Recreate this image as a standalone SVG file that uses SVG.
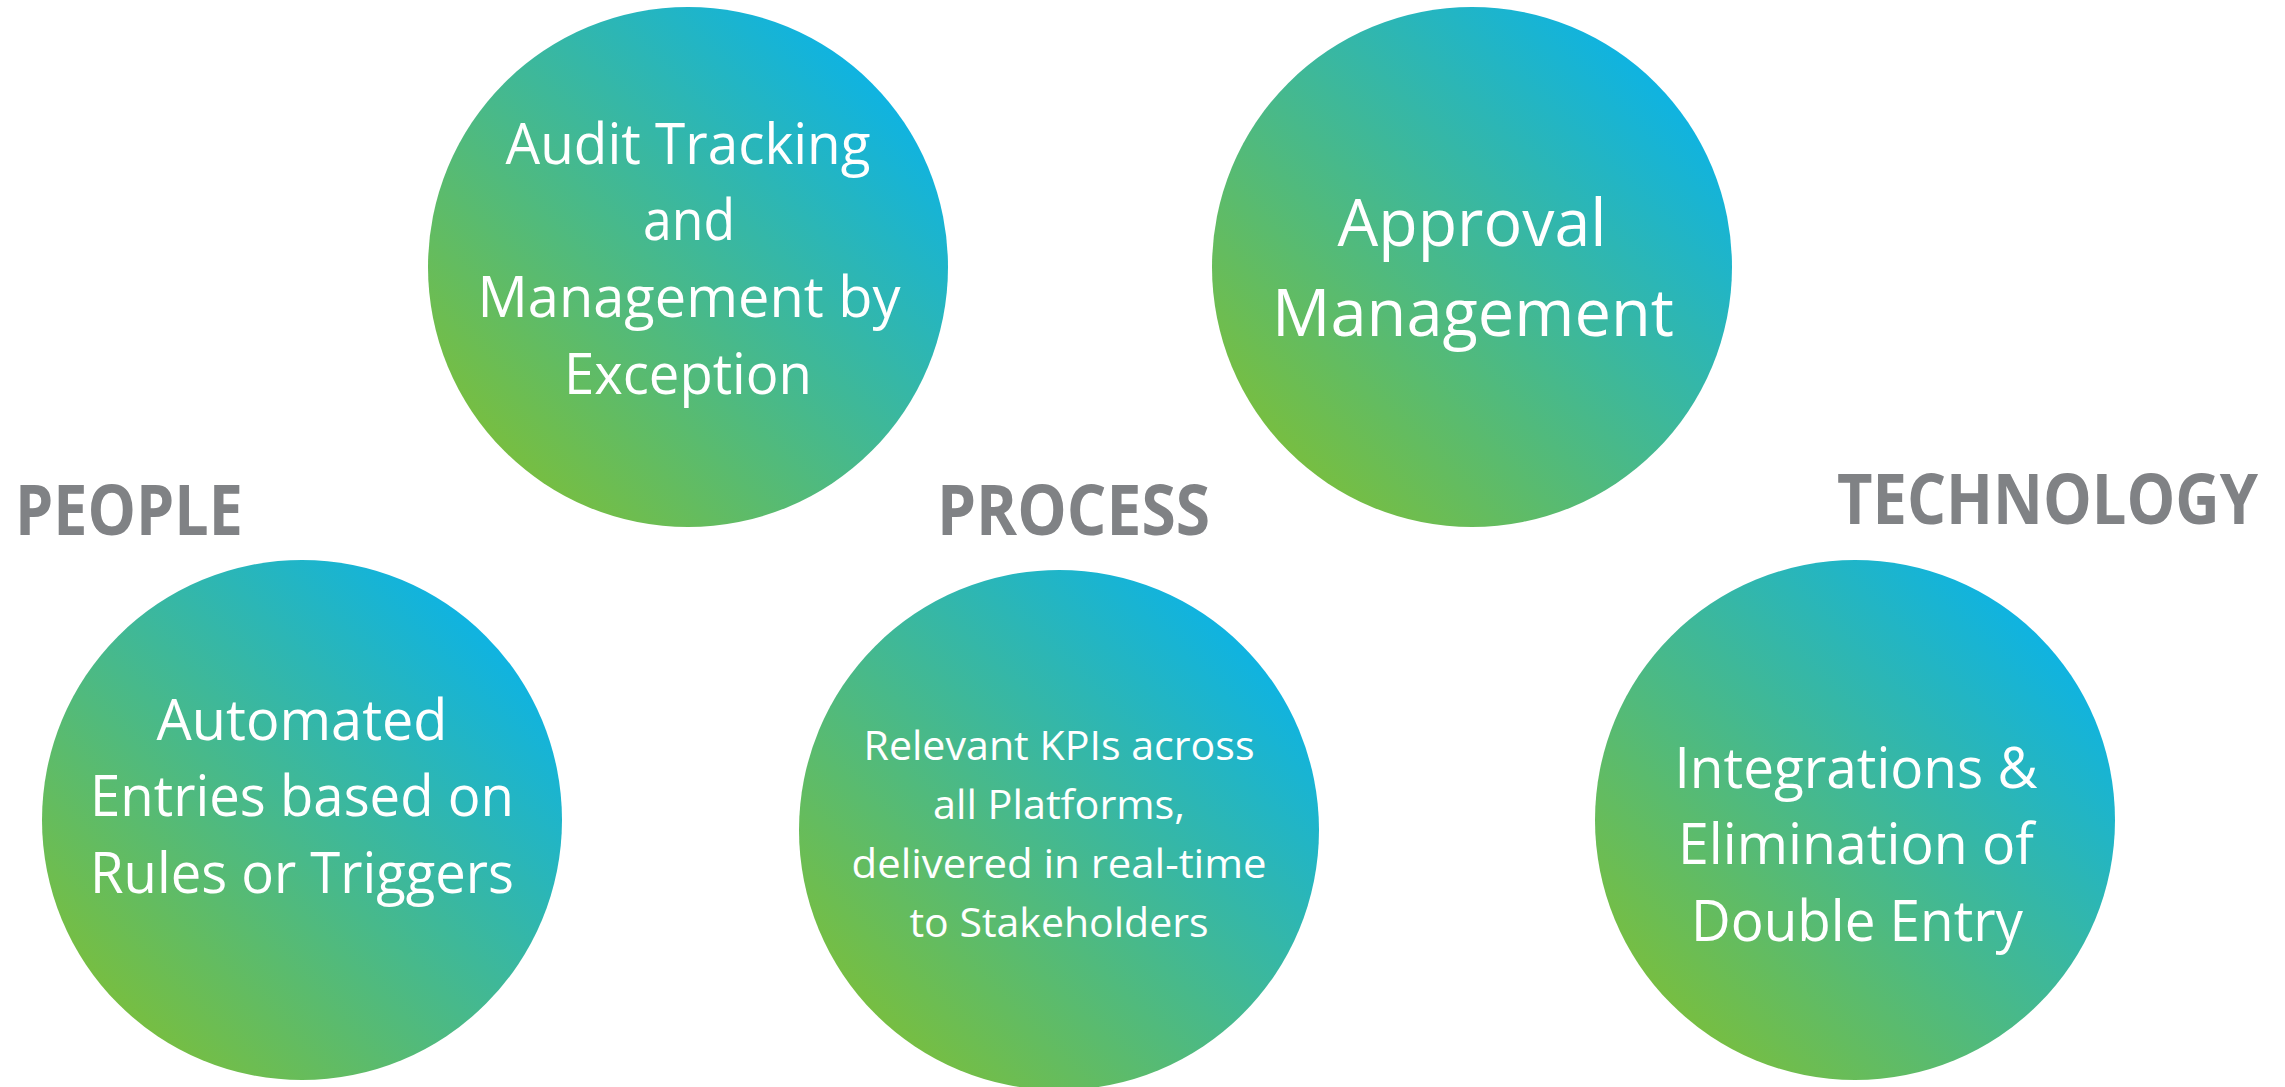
<svg xmlns="http://www.w3.org/2000/svg" width="2285" height="1087" viewBox="0 0 2285 1087">
<defs>
<linearGradient id="g" x1="0.15" y1="0.85" x2="0.85" y2="0.15">
<stop offset="0" stop-color="#76BE43"/>
<stop offset="1" stop-color="#10B3E0"/>
</linearGradient>
<style>
.c{fill:url(#g)}
.t{font-family:"Open Sans","Noto Sans",sans-serif;fill:#FFFFFF;text-anchor:middle}
.h{font-family:"Open Sans","Noto Sans",sans-serif;font-weight:bold;fill:#808285}
</style>
</defs>
<rect width="2285" height="1087" fill="#FFFFFF"/>
<g id="connectors"/>
<g id="node-audit">
<circle class="c" cx="688" cy="267" r="260"/>
<text class="t" font-size="57" x="688" y="164" textLength="365" lengthAdjust="spacingAndGlyphs">Audit Tracking</text>
<text class="t" font-size="57" x="689" y="240" textLength="92" lengthAdjust="spacingAndGlyphs">and</text>
<text class="t" font-size="57" x="689" y="317" textLength="423" lengthAdjust="spacingAndGlyphs">Management by</text>
<text class="t" font-size="57" x="688" y="394" textLength="248" lengthAdjust="spacingAndGlyphs">Exception</text>
</g>
<g id="node-approval">
<circle class="c" cx="1472" cy="267" r="260"/>
<text class="t" font-size="66" x="1472" y="246" textLength="269" lengthAdjust="spacingAndGlyphs">Approval</text>
<text class="t" font-size="66" x="1473" y="336" textLength="402" lengthAdjust="spacingAndGlyphs">Management</text>
</g>
<g id="node-automated">
<circle class="c" cx="302" cy="820" r="260"/>
<text class="t" font-size="57" x="302" y="740" textLength="291" lengthAdjust="spacingAndGlyphs">Automated</text>
<text class="t" font-size="57" x="302" y="816" textLength="424" lengthAdjust="spacingAndGlyphs">Entries based on</text>
<text class="t" font-size="57" x="302" y="893" textLength="424" lengthAdjust="spacingAndGlyphs">Rules or Triggers</text>
</g>
<g id="node-kpis">
<circle class="c" cx="1059" cy="830" r="260"/>
<text class="t" font-size="41" x="1059" y="760" textLength="391" lengthAdjust="spacingAndGlyphs">Relevant KPIs across</text>
<text class="t" font-size="41" x="1059" y="819" textLength="252" lengthAdjust="spacingAndGlyphs">all Platforms,</text>
<text class="t" font-size="41" x="1059" y="878" textLength="415" lengthAdjust="spacingAndGlyphs">delivered in real-time</text>
<text class="t" font-size="41" x="1059" y="937" textLength="299" lengthAdjust="spacingAndGlyphs">to Stakeholders</text>
</g>
<g id="node-integrations">
<circle class="c" cx="1855" cy="820" r="260"/>
<text class="t" font-size="57" x="1856" y="788" textLength="363" lengthAdjust="spacingAndGlyphs">Integrations &amp;</text>
<text class="t" font-size="57" x="1856" y="864" textLength="356" lengthAdjust="spacingAndGlyphs">Elimination of</text>
<text class="t" font-size="57" x="1857" y="941" textLength="332" lengthAdjust="spacingAndGlyphs">Double Entry</text>
</g>
<g id="label-people">
<text class="h" font-size="69" x="15" y="535" textLength="228" lengthAdjust="spacingAndGlyphs">PEOPLE</text>
</g>
<g id="label-process">
<text class="h" font-size="69" x="937" y="535" textLength="273" lengthAdjust="spacingAndGlyphs">PROCESS</text>
</g>
<g id="label-technology">
<text class="h" font-size="69" x="1837" y="524" textLength="421" lengthAdjust="spacingAndGlyphs">TECHNOLOGY</text>
</g>
</svg>
